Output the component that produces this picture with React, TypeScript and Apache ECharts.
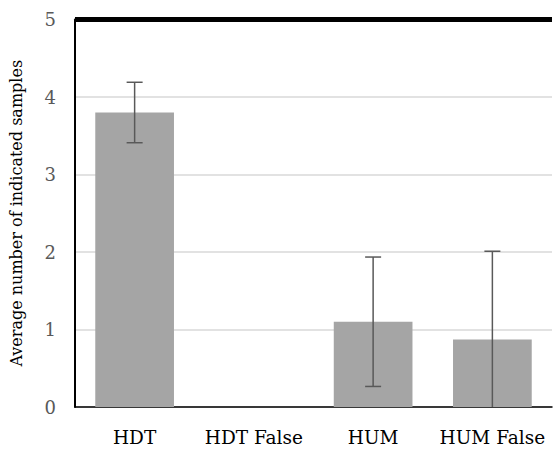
import React, { useEffect, useRef } from "react";
import * as echarts from "echarts";

const categories = ["HDT", "HDT False", "HUM", "HUM False"];
const values = [3.8, 0, 1.1, 0.87];
const errors = [0.39, 0, 0.835, 1.14];
const yTicks = [0, 1, 2, 3, 4, 5];

export default function App() {
  const ref = useRef<HTMLDivElement>(null);
  useEffect(() => {
    if (!ref.current) return;
    const chart = echarts.init(ref.current, undefined, { renderer: "svg" });
    const font = "DejaVu Serif";
    const errData = values.map((v, i) => [i, v, errors[i]]);
    chart.setOption({
      animation: false,
      textStyle: { fontFamily: font },
      grid: { left: 72, right: 6, top: 19.5, bottom: 45, containLabel: false },
      xAxis: {
        type: "category",
        data: categories,
        axisLine: { show: true, lineStyle: { color: "#000", width: 1.5 } },
        axisTick: { show: false },
        axisLabel: { color: "#000", fontFamily: font, fontSize: 18.5, margin: 21, interval: 0 },
      },
      yAxis: {
        type: "value",
        min: yTicks[0],
        max: yTicks[yTicks.length - 1],
        interval: 1,
        name: "Average number of indicated samples",
        nameLocation: "middle",
        nameGap: 51,
        nameTextStyle: { color: "#000", fontFamily: font, fontSize: 16 },
        axisLine: { show: true, lineStyle: { color: "#000", width: 2 } },
        axisTick: { show: false },
        axisLabel: { color: "#595959", fontFamily: font, fontSize: 18, margin: 19 },
        splitLine: { show: true, lineStyle: { color: "#d9d9d9", width: 1.5 } },
      },
      series: [
        {
          type: "bar",
          data: values,
          barCategoryGap: "34%",
          itemStyle: { color: "#a5a5a5" },
          markLine: {
            symbol: "none",
            silent: true,
            label: { show: false },
            lineStyle: { color: "#000", width: 5, type: "solid" },
            data: [{ yAxis: yTicks[yTicks.length - 1] }],
          },
        },
        {
          type: "custom",
          data: errData,
          z: 10,
          renderItem: (params: any, api: any) => {
            const i = api.value(0);
            const v = api.value(1);
            const e = api.value(2);
            if (!e) return null;
            const lo = Math.max(0, v - e);
            const hi = v + e;
            const top = api.coord([i, hi]);
            const bot = api.coord([i, lo]);
            const cap = 8;
            const style = { stroke: "#595959", lineWidth: 1.5 };
            const children: any[] = [
              { type: "line", shape: { x1: top[0], y1: top[1], x2: bot[0], y2: bot[1] }, style },
              { type: "line", shape: { x1: top[0] - cap, y1: top[1], x2: top[0] + cap, y2: top[1] }, style },
            ];
            if (v - e > 0) {
              children.push({ type: "line", shape: { x1: bot[0] - cap, y1: bot[1], x2: bot[0] + cap, y2: bot[1] }, style });
            }
            return { type: "group", children };
          },
        },
      ],
    });
    return () => chart.dispose();
  }, []);
  return <div ref={ref} style={{ width: 558, height: 452, position: "absolute", left: 0, top: 0 }} />;
}
